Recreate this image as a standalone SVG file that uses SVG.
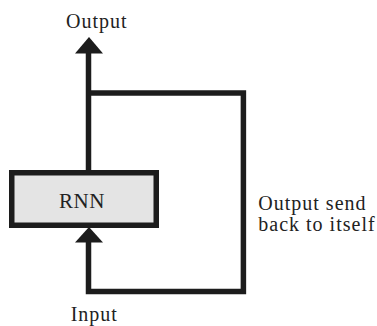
<svg xmlns="http://www.w3.org/2000/svg" width="377" height="326" viewBox="0 0 377 326">
  <style>
    .lbl { font-family: "Liberation Serif", "Times New Roman", serif; font-size: 20px; fill: #222; letter-spacing: 1px; }
    .wire { fill: none; stroke: #1c1c1c; stroke-width: 5.5; stroke-linejoin: miter; stroke-linecap: butt; }
    .head { fill: #1c1c1c; }
  </style>
  <rect width="377" height="326" fill="#ffffff"/>
  <g id="connectors">
    <path class="wire" d="M88.5 170 V52"/>
    <polygon class="head" points="89,37 75,53.5 103,53.5"/>
    <path class="wire" d="M88.5 93 H243.4 V291.5 H88.5 V241"/>
    <polygon class="head" points="89,227 75,242.5 103,242.5"/>
  </g>
  <g id="rnn">
    <rect x="11.75" y="172.75" width="144.5" height="52.5" fill="#e4e4e4" stroke="#1c1c1c" stroke-width="5.5"/>
    <text class="lbl" x="82" y="208.3" text-anchor="middle" style="font-size:21px;letter-spacing:0.5px">RNN</text>
  </g>
  <g id="output">
    <text class="lbl" x="66" y="27.7">Output</text>
  </g>
  <g id="input">
    <text class="lbl" x="70.7" y="321">Input</text>
  </g>
  <g id="feedback-label">
    <text class="lbl" x="258.3" y="209.5">Output send</text>
    <text class="lbl" x="258.3" y="231">back to itself</text>
  </g>
</svg>
